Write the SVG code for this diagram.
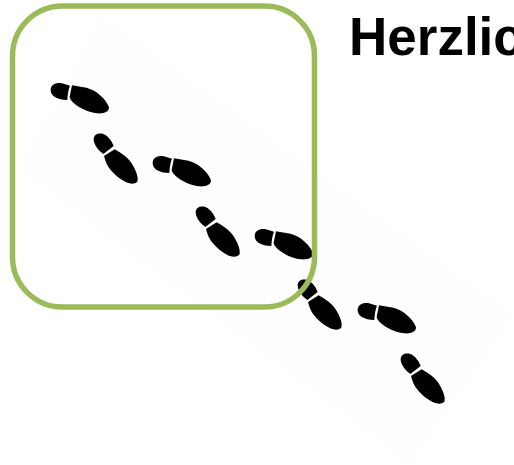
<svg xmlns="http://www.w3.org/2000/svg" width="514" height="465" viewBox="0 0 514 465">
<style>
.title{font-family:"Liberation Sans",Arial,sans-serif;font-weight:bold;font-size:53px;fill:#000}
.ink{fill:#000}
</style>
<defs>
<g id="shoeA" transform="translate(40 70) scale(.33333)">
<path class="ink" d="M32,60C32,44 48,37 66,40L90,47C85,58 83,74 82,90C68,90 52,86 43,80C36,75 32,68 32,60Z"/>
<path class="ink" d="M96,46C118,50 145,52 163,63C183,75 202,95 207,112C207,126 192,132 170,130C146,128 118,114 102,100C94,92 88,85 89,80Z"/>
</g>
<g id="shoeB" transform="translate(40 70) scale(.33333)">
<path class="ink" d="M161,208C161,194 175,188 190,192C204,197 216,214 221,228L190,252C175,242 161,224 161,208Z"/>
<path class="ink" d="M224,238C244,250 266,263 278,285C290,305 296,324 292,335C282,345 262,342 243,328C220,312 200,290 195,268C193,262 192,258 193,257Z"/>
</g>
</defs>
<polygon points="100,14 514,315 410,465 20,170" fill="#fefefe"/>
<g id="footprints">
<use href="#shoeA"/>
<use href="#shoeB"/>
<use href="#shoeA" x="102" y="73"/>
<use href="#shoeB" x="102" y="73"/>
<use href="#shoeA" x="204" y="146"/>
<use href="#shoeB" x="204" y="146"/>
<use href="#shoeA" x="307" y="220"/>
<use href="#shoeB" x="307" y="220"/>
</g>
<g id="frame">
<rect x="12.5" y="6" width="302" height="301" rx="50" ry="50" fill="none" stroke="#9bbb59" stroke-width="5.5"/>
</g>
<g id="title">
<text class="title" x="349" y="55">Herzlic</text>
</g>
</svg>
